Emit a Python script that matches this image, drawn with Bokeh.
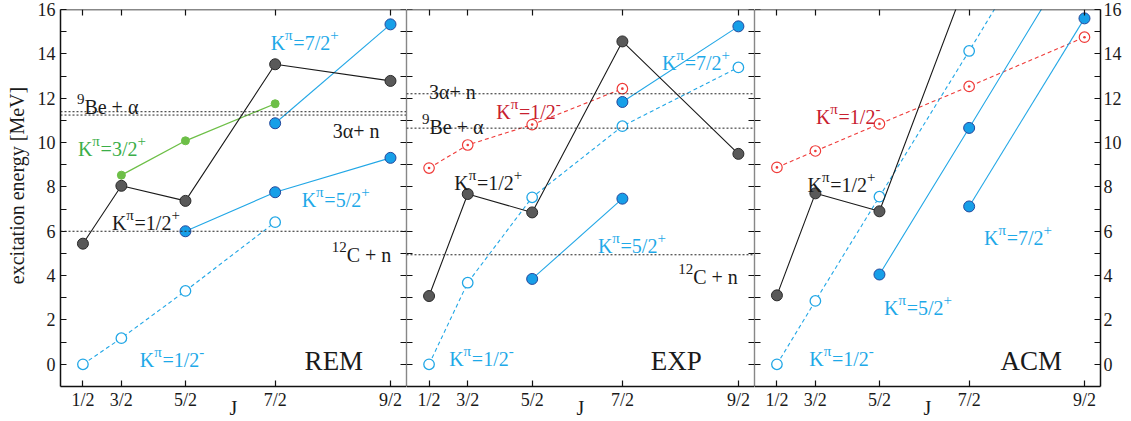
import math
from bokeh.plotting import figure
from bokeh.models import LinearAxis, FixedTicker, Span, CustomJSTickFormatter, Range1d
from bokeh.layouts import row
from bokeh.embed import file_html
from bokeh.resources import INLINE
from bokeh.core.properties import value

FONT = "Liberation Serif"
AXFONT = "'Liberation Serif'"

# ---------------- data ----------------
J_LABELS = ["1/2", "3/2", "5/2", "7/2", "9/2"]
J_VALUES = [0.5, 1.5, 2.5, 3.5, 4.5]

# REM
REM_K12P_J = [0.5, 1.5, 2.5, 3.5, 4.5]
REM_K12P_E = [5.44, 8.05, 7.37, 13.53, 12.78]
REM_K32P_J = [1.5, 2.5, 3.5]
REM_K32P_E = [8.53, 10.08, 11.75]
REM_K52P_J = [2.5, 3.5, 4.5]
REM_K52P_E = [6.00, 7.76, 9.31]
REM_K72P_J = [3.5, 4.5]
REM_K72P_E = [10.87, 15.33]
REM_K12M_J = [0.5, 1.5, 2.5, 3.5]
REM_K12M_E = [0.0, 1.18, 3.31, 6.41]
REM_THR_BE_A = 11.24
REM_THR_3A_N = 11.39
REM_THR_C_N = 6.00

# EXP
EXP_K12P_J = [0.5, 1.5, 2.5, 3.5, 4.5]
EXP_K12P_E = [3.08, 7.68, 6.85, 14.56, 9.49]
EXP_K12M_J = [0.5, 1.5, 2.5, 3.5, 4.5]
EXP_K12M_E = [0.0, 3.68, 7.53, 10.74, 13.39]
EXP_K12M2_J = [0.5, 1.5, 2.5, 3.5]
EXP_K12M2_E = [8.85, 9.89, 10.81, 12.43]
EXP_K52P_J = [2.5, 3.5]
EXP_K52P_E = [3.85, 7.47]
EXP_K72P_J = [3.5, 4.5]
EXP_K72P_E = [11.83, 15.24]
EXP_THR_3A_N = 12.20
EXP_THR_BE_A = 10.65
EXP_THR_C_N = 4.94

# ACM
ACM_K12P_J = [0.5, 1.5, 2.5, 3.5]
ACM_K12P_E = [3.11, 7.71, 6.90, 17.6]
ACM_K12M_J = [0.5, 1.5, 2.5, 3.5, 4.5]
ACM_K12M_E = [0.0, 2.86, 7.56, 14.13, 22.7]
ACM_K12M2_J = [0.5, 1.5, 2.5, 3.5, 4.5]
ACM_K12M2_E = [8.88, 9.62, 10.84, 12.53, 14.75]
ACM_K52P_J = [2.5, 3.5, 4.5]
ACM_K52P_E = [4.05, 10.66, 19.2]
ACM_K72P_J = [3.5, 4.5]
ACM_K72P_E = [7.12, 15.6]

Y_MAJOR = [0, 2, 4, 6, 8, 10, 12, 14, 16]
Y_MINOR = [1, 3, 5, 7, 9, 11, 13, 15]
X_TITLE = "J"
Y_TITLE = "excitation energy [MeV]"

# ---------------- styles ----------------
BLACK_LINE = "#1a1a1a"
BLACK_FILL = "#595959"
BLACK_EDGE = "#2a2a2a"
BLUE = "#22a7e6"
BLUE_FILL = "#179fe8"
BLUE_EDGE = "#24489c"
BLUE_TEXT = "#1ea9e8"
GREEN = "#6dbf47"
GREEN_TEXT = "#3bae49"
RED = "#ef3b39"
RED_TEXT = "#c8202f"
TEXT = "#1a1a1a"

X_START, X_END = -1, 26
Y_START, Y_END = -1, 16

H = 421
TOP = 9
BOTTOM = 30


def jx(j):
    return j * (j + 1)


XS = [jx(j) for j in J_VALUES]

W = {'K': .722, 'π': .55, '=': .564, '/': .278, '+': .564, '-': .333, 'B': .667,
     'e': .444, ' ': .25, 'α': .52, 'C': .667, 'n': .5}


def tw(s, size):
    return sum(W.get(c, .5) for c in s) * size


def rich(p, x, y, segs, color, size=20, sup=15, raise_px=8):
    dx = 0.0
    for s, is_sup in segs:
        fs = sup if is_sup else size
        p.text(x=[x], y=[y], text=[s], x_offset=dx, y_offset=(-raise_px if is_sup else 0),
               text_font=value(FONT), text_font_size=f"{fs}px", text_color=color,
               text_baseline="alphabetic", text_align="left")
        dx += tw(s, fs)


def kpi(p, x, y, frac, parity, color):
    rich(p, x, y, [("K", False), ("π", True), ("=" + frac, False), (parity, True)], color)


def plain(p, x, y, s, color=TEXT, size=20):
    p.text(x=[x], y=[y], text=[s], text_font=value(FONT), text_font_size=f"{size}px",
           text_color=color, text_baseline="alphabetic", text_align="left")


def style_axis(ax, labels=True, width=1.5):
    ax.major_tick_in = 6
    ax.major_tick_out = 0
    ax.minor_tick_in = 6
    ax.minor_tick_out = 0
    ax.axis_line_width = width
    ax.axis_line_color = "#111111"
    ax.major_tick_line_color = "#111111"
    ax.minor_tick_line_color = "#111111"
    ax.major_tick_line_width = 1.2
    ax.minor_tick_line_width = 1.2
    ax.major_label_text_font = AXFONT
    ax.major_label_text_font_size = "18px"
    ax.major_label_text_color = TEXT
    ax.axis_label_text_font = AXFONT
    ax.axis_label_text_font_style = "normal"
    ax.axis_label_text_color = TEXT
    if not labels:
        ax.formatter = CustomJSTickFormatter(code="return ''")


def yticker():
    return FixedTicker(ticks=Y_MAJOR, minor_ticks=Y_MINOR)


def xticker():
    return FixedTicker(ticks=XS, minor_ticks=[])


def xformatter():
    return CustomJSTickFormatter(args=dict(xs=XS, labs=J_LABELS), code="""
        for (let i = 0; i < xs.length; i++) { if (Math.abs(xs[i] - tick) < 1e-6) return labs[i]; }
        return '';
    """)


def make_panel(first, last, width):
    p = figure(width=width, height=H,
               x_range=Range1d(X_START, X_END), y_range=Range1d(Y_START, Y_END),
               x_axis_location=None, y_axis_location=None,
               toolbar_location=None, output_backend="svg",
               min_border_left=60 if first else 0, min_border_right=29 if last else 0,
               min_border_top=TOP, min_border_bottom=BOTTOM)
    p.outline_line_color = None
    p.background_fill_color = "white"
    p.border_fill_color = "white"
    p.xgrid.visible = False
    p.ygrid.visible = False

    bottom = LinearAxis(ticker=xticker(), formatter=xformatter(), axis_label=X_TITLE)
    style_axis(bottom)
    bottom.major_label_standoff = 3
    bottom.axis_label_standoff = -16
    bottom.axis_label_text_font_size = "20px"
    p.add_layout(bottom, "below")

    top = LinearAxis(ticker=xticker(), fixed_location=Y_END)
    style_axis(top, labels=False)
    p.add_layout(top, "above")

    if first:
        left = LinearAxis(ticker=yticker(), axis_label="\u00a0" * 5 + Y_TITLE)
        style_axis(left)
        left.major_label_standoff = 5
        left.axis_label_standoff = 7
        left.axis_label_text_font_size = "20px"
    else:
        left = LinearAxis(ticker=yticker(), fixed_location=X_START)
        style_axis(left, labels=False, width=1.2)
    p.add_layout(left, "left")

    if last:
        right = LinearAxis(ticker=yticker())
        style_axis(right)
        right.major_label_standoff = 3
    else:
        right = LinearAxis(ticker=yticker(), fixed_location=X_END)
        style_axis(right, labels=False, width=1.2)
    p.add_layout(right, "right")
    return p


def thr(p, e):
    p.add_layout(Span(location=e, dimension="width", line_color="#222222",
                      line_dash="2 2", line_width=1))


def band(p, J, E, kind):
    x = [jx(j) for j in J]
    if kind == "black":
        p.line(x, E, line_color=BLACK_LINE, line_width=1.1)
        p.scatter(x, E, size=11, fill_color=BLACK_FILL, line_color=BLACK_EDGE, line_width=1)
    elif kind == "bluefill":
        p.line(x, E, line_color=BLUE, line_width=1.1)
        p.scatter(x, E, size=11, fill_color=BLUE_FILL, line_color=BLUE_EDGE, line_width=1)
    elif kind == "blueopen":
        p.line(x, E, line_color=BLUE, line_width=1.1, line_dash="4 3")
        p.scatter(x, E, size=10.5, fill_color="white", line_color=BLUE, line_width=1.3)
    elif kind == "green":
        p.line(x, E, line_color=GREEN, line_width=1.3)
        p.scatter(x, E, size=8, fill_color=GREEN, line_color=GREEN, line_width=1)
    elif kind == "red":
        p.line(x, E, line_color=RED, line_width=1.1, line_dash="4 3")
        p.scatter(x, E, size=10.5, marker="circle_dot", fill_color="white", line_color=RED,
                  line_width=1.2)


# ---------------- REM ----------------
p1 = make_panel(True, False, 60 + 346)
thr(p1, REM_THR_BE_A)
thr(p1, REM_THR_3A_N)
thr(p1, REM_THR_C_N)
band(p1, REM_K12M_J, REM_K12M_E, "blueopen")
band(p1, REM_K52P_J, REM_K52P_E, "bluefill")
band(p1, REM_K72P_J, REM_K72P_E, "bluefill")
band(p1, REM_K32P_J, REM_K32P_E, "green")
band(p1, REM_K12P_J, REM_K12P_E, "black")
kpi(p1, 15.4, 14.47, "7/2", "+", BLUE_TEXT)
rich(p1, 0.28, 11.62, [("9", True), ("Be + α", False)], TEXT)
plain(p1, 20.24, 10.52, "3α+ n")
kpi(p1, 0.36, 9.72, "3/2", "+", GREEN_TEXT)
kpi(p1, 17.82, 7.4, "5/2", "+", BLUE_TEXT)
kpi(p1, 3.01, 6.38, "1/2", "+", TEXT)
rich(p1, 20.16, 4.95, [("12", True), ("C + n", False)], TEXT)
kpi(p1, 5.19, 0.19, "1/2", "-", BLUE_TEXT)
plain(p1, 18.05, 0.15, "REM", size=27)

# ---------------- EXP ----------------
p2 = make_panel(False, False, 348)
thr(p2, EXP_THR_3A_N)
thr(p2, EXP_THR_BE_A)
thr(p2, EXP_THR_C_N)
band(p2, EXP_K12M2_J, EXP_K12M2_E, "red")
band(p2, EXP_K12M_J, EXP_K12M_E, "blueopen")
band(p2, EXP_K52P_J, EXP_K52P_E, "bluefill")
band(p2, EXP_K72P_J, EXP_K72P_E, "bluefill")
band(p2, EXP_K12P_J, EXP_K12P_E, "black")
plain(p2, 0.75, 12.28, "3α+ n")
kpi(p2, 5.97, 11.4, "1/2", "-", RED_TEXT)
rich(p2, 0.2, 10.68, [("9", True), ("Be + α", False)], TEXT)
kpi(p2, 18.83, 13.58, "7/2", "+", BLUE_TEXT)
kpi(p2, 2.70, 8.16, "1/2", "+", TEXT)
kpi(p2, 13.85, 5.35, "5/2", "+", BLUE_TEXT)
rich(p2, 20.08, 3.93, [("12", True), ("C + n", False)], TEXT)
kpi(p2, 2.31, 0.24, "1/2", "-", BLUE_TEXT)
plain(p2, 17.95, 0.15, "EXP", size=27)

# ---------------- ACM ----------------
p3 = make_panel(False, True, 346 + 29)
band(p3, ACM_K12M2_J, ACM_K12M2_E, "red")
band(p3, ACM_K12M_J, ACM_K12M_E, "blueopen")
band(p3, ACM_K52P_J, ACM_K52P_E, "bluefill")
band(p3, ACM_K72P_J, ACM_K72P_E, "bluefill")
band(p3, ACM_K12P_J, ACM_K12P_E, "black")
kpi(p3, 3.79, 11.14, "1/2", "-", RED_TEXT)
kpi(p3, 3.14, 8.08, "1/2", "+", TEXT)
kpi(p3, 16.91, 5.68, "7/2", "+", BLUE_TEXT)
kpi(p3, 9.11, 2.52, "5/2", "+", BLUE_TEXT)
kpi(p3, 3.27, 0.22, "1/2", "-", BLUE_TEXT)
plain(p3, 18.2, 0.15, "ACM", size=27)

layout = row(p1, p2, p3)
open("out.html", "w").write(file_html(layout, INLINE))
